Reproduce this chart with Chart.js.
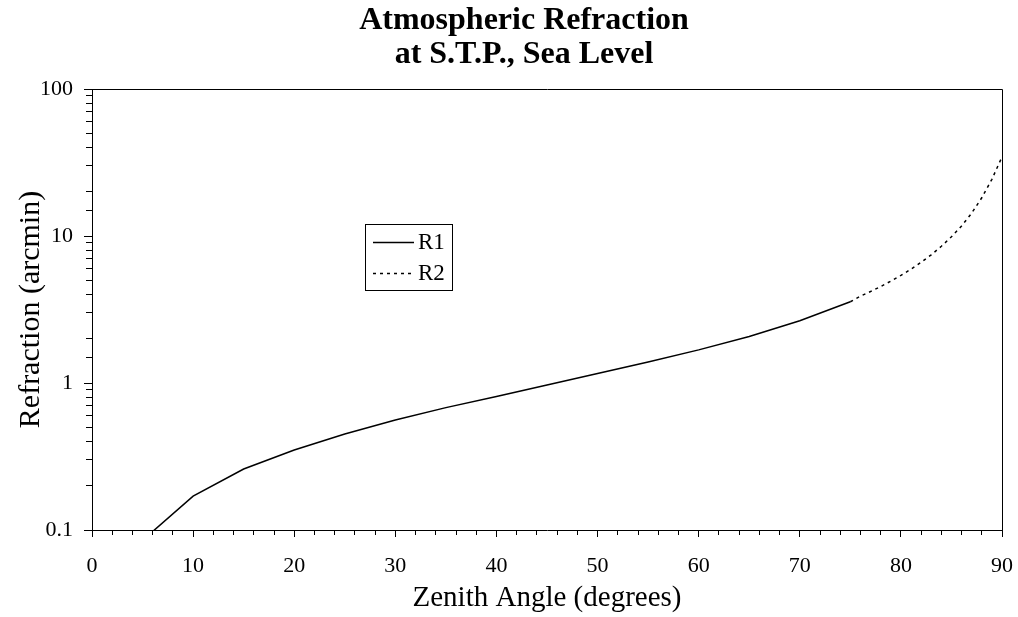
<!DOCTYPE html>
<html>
<head>
<meta charset="utf-8">
<title>Atmospheric Refraction</title>
<script src="https://cdn.jsdelivr.net/npm/chart.js@4.4.1/dist/chart.umd.min.js"></script>
<style>
  html, body { margin: 0; padding: 0; background: #fff; }
  canvas { display: block; }
</style>
</head>
<body>
<canvas id="refractionChart" width="1018" height="617"></canvas>
<script>
// data (zenith angle in degrees, refraction in arcmin)
var zenithR1 = [5, 10, 15, 20, 25, 30, 35, 40, 45, 50, 55, 60, 65, 70, 75];
var refractionR1 = [0.085, 0.17, 0.26, 0.35, 0.45, 0.56, 0.68, 0.81, 0.97, 1.16, 1.39, 1.68, 2.07, 2.65, 3.57];
var zenithR2 = [75, 76, 77, 78, 79, 80, 81, 82, 83, 84, 85, 86, 87, 88, 89, 90];
var refractionR2 = [3.57, 3.9, 4.19, 4.53, 4.93, 5.39, 5.95, 6.62, 7.45, 8.51, 9.88, 11.7, 14.3, 18.2, 24.3, 34.5];
var seriesLabels = ["R1", "R2"];
var titleLines = ["Atmospheric Refraction", "at S.T.P., Sea Level"];
var xTickValues = [0, 10, 20, 30, 40, 50, 60, 70, 80, 90];
var yTickValues = [0.1, 1, 10, 100];
var yTickLabels = ["0.1", "1", "10", "100"];

var serif = '"Liberation Serif", "Times New Roman", serif';

function toPoints(xs, ys) {
    return xs.map(function (x, i) { return { x: x, y: ys[i] }; });
}

// two-line bold title, drawn a bit left of the plot centre like the original
var titlePlugin = {
    id: 'titleLines',
    afterDraw: function (chart) {
        var ctx = chart.ctx;
        ctx.save();
        ctx.fillStyle = '#000';
        ctx.font = 'bold 32px ' + serif;
        ctx.textAlign = 'center';
        ctx.textBaseline = 'alphabetic';
        ctx.fillText(titleLines[0], 524, 29);
        ctx.fillText(titleLines[1], 524, 63);
        ctx.restore();
    }
};

// closed frame round the plot area
var framePlugin = {
    id: 'frame',
    afterDraw: function (chart) {
        var a = chart.chartArea;
        var ctx = chart.ctx;
        ctx.save();
        ctx.strokeStyle = '#000';
        ctx.lineWidth = 1;
        ctx.beginPath();
        ctx.moveTo(Math.round(a.left) + 0.5, Math.round(a.top) + 0.5);
        ctx.lineTo(Math.round(a.right) + 0.5, Math.round(a.top) + 0.5);
        ctx.lineTo(Math.round(a.right) + 0.5, Math.round(a.bottom) + 0.5);
        ctx.stroke();
        ctx.restore();
    }
};

// boxed legend inside the plot
var boxLegendPlugin = {
    id: 'boxLegend',
    afterDraw: function (chart) {
        var ctx = chart.ctx;
        var sets = chart.data.datasets;
        var rows = [243, 274];
        ctx.save();
        ctx.fillStyle = '#fff';
        ctx.fillRect(365, 224, 87, 66);
        ctx.strokeStyle = '#000';
        ctx.lineWidth = 1;
        ctx.strokeRect(365.5, 224.5, 87, 66);
        sets.forEach(function (ds, i) {
            var y = rows[i];
            ctx.beginPath();
            ctx.setLineDash(ds.borderDash || []);
            ctx.lineWidth = ds.borderWidth;
            ctx.strokeStyle = ds.borderColor;
            ctx.moveTo(373, y - 0.5);
            ctx.lineTo(414, y - 0.5);
            ctx.stroke();
            ctx.setLineDash([]);
            ctx.fillStyle = '#000';
            ctx.font = '23px ' + serif;
            ctx.textAlign = 'left';
            ctx.textBaseline = 'middle';
            ctx.fillText(ds.label, 418, y);
        });
        ctx.restore();
    }
};

var ctx = document.getElementById("refractionChart");
var refractionChart = new Chart(ctx, {
    type: 'line',
    data: {
        datasets: [{
            label: seriesLabels[0],
            data: toPoints(zenithR1, refractionR1),
            borderColor: '#000',
            borderWidth: 1.5,
            pointRadius: 0,
            fill: false,
            tension: 0,
            xAxisID: 'x',
            yAxisID: 'y'
        }, {
            label: seriesLabels[1],
            data: toPoints(zenithR2, refractionR2),
            borderColor: '#000',
            borderWidth: 1.5,
            borderDash: [3, 4],
            pointRadius: 0,
            fill: false,
            tension: 0,
            xAxisID: 'x',
            yAxisID: 'y'
        }]
    },
    options: {
        responsive: false,
        animation: false,
        layout: {
            padding: { top: 89, right: 16, left: 0, bottom: 0 }
        },
        scales: {
            // minor tick marks, zero-sized so they sit on the plot edge
            xMinor: {
                type: 'linear',
                axis: 'x',
                position: 'bottom',
                weight: 0,
                min: 0,
                max: 90,
                ticks: { stepSize: 2, display: false, autoSkip: false },
                grid: { drawOnChartArea: false, tickLength: 5, tickColor: '#000', tickWidth: 1 },
                border: { display: false },
                afterFit: function (scale) { scale.height = 0; }
            },
            yMinor: {
                type: 'logarithmic',
                axis: 'y',
                position: 'left',
                weight: 0,
                min: 0.1,
                max: 100,
                ticks: { display: false, autoSkip: false },
                grid: { drawOnChartArea: false, tickLength: 6, tickColor: '#000', tickWidth: 1 },
                border: { display: false },
                afterFit: function (scale) { scale.width = 0; }
            },
            x: {
                type: 'linear',
                position: 'bottom',
                weight: 1,
                min: 0,
                max: 90,
                afterBuildTicks: function (scale) {
                    scale.ticks = xTickValues.map(function (v) { return { value: v }; });
                },
                ticks: {
                    autoSkip: false,
                    maxRotation: 0,
                    color: '#000',
                    padding: 16,
                    font: { family: serif, size: 22 }
                },
                grid: { drawOnChartArea: false, tickLength: 7, tickColor: '#000', tickWidth: 1 },
                border: { color: '#000', width: 1 },
                title: {
                    display: true,
                    text: 'Zenith Angle (degrees)',
                    color: '#000',
                    font: { family: serif, size: 29 },
                    padding: { top: 0, bottom: 1 }
                },
                afterFit: function (scale) {
                    scale.height = 87;
                    scale.paddingLeft = 0;
                    scale.paddingRight = 0;
                }
            },
            y: {
                type: 'logarithmic',
                position: 'left',
                weight: 1,
                min: 0.1,
                max: 100,
                afterBuildTicks: function (scale) {
                    scale.ticks = yTickValues.map(function (v) { return { value: v }; });
                },
                ticks: {
                    autoSkip: false,
                    color: '#000',
                    padding: 11,
                    font: { family: serif, size: 22 },
                    callback: function (value) {
                        var i = yTickValues.indexOf(value);
                        return i >= 0 ? yTickLabels[i] : '';
                    }
                },
                grid: { drawOnChartArea: false, tickLength: 8, tickColor: '#000', tickWidth: 1 },
                border: { color: '#000', width: 1 },
                title: {
                    display: true,
                    text: 'Refraction (arcmin)',
                    color: '#000',
                    font: { family: serif, size: 30 },
                    padding: { top: 13, bottom: 0 }
                },
                afterFit: function (scale) { scale.width = 92; }
            }
        },
        plugins: {
            legend: { display: false },
            title: { display: false },
            tooltip: { enabled: false }
        }
    },
    plugins: [framePlugin, boxLegendPlugin, titlePlugin]
});
</script>
</body>
</html>
